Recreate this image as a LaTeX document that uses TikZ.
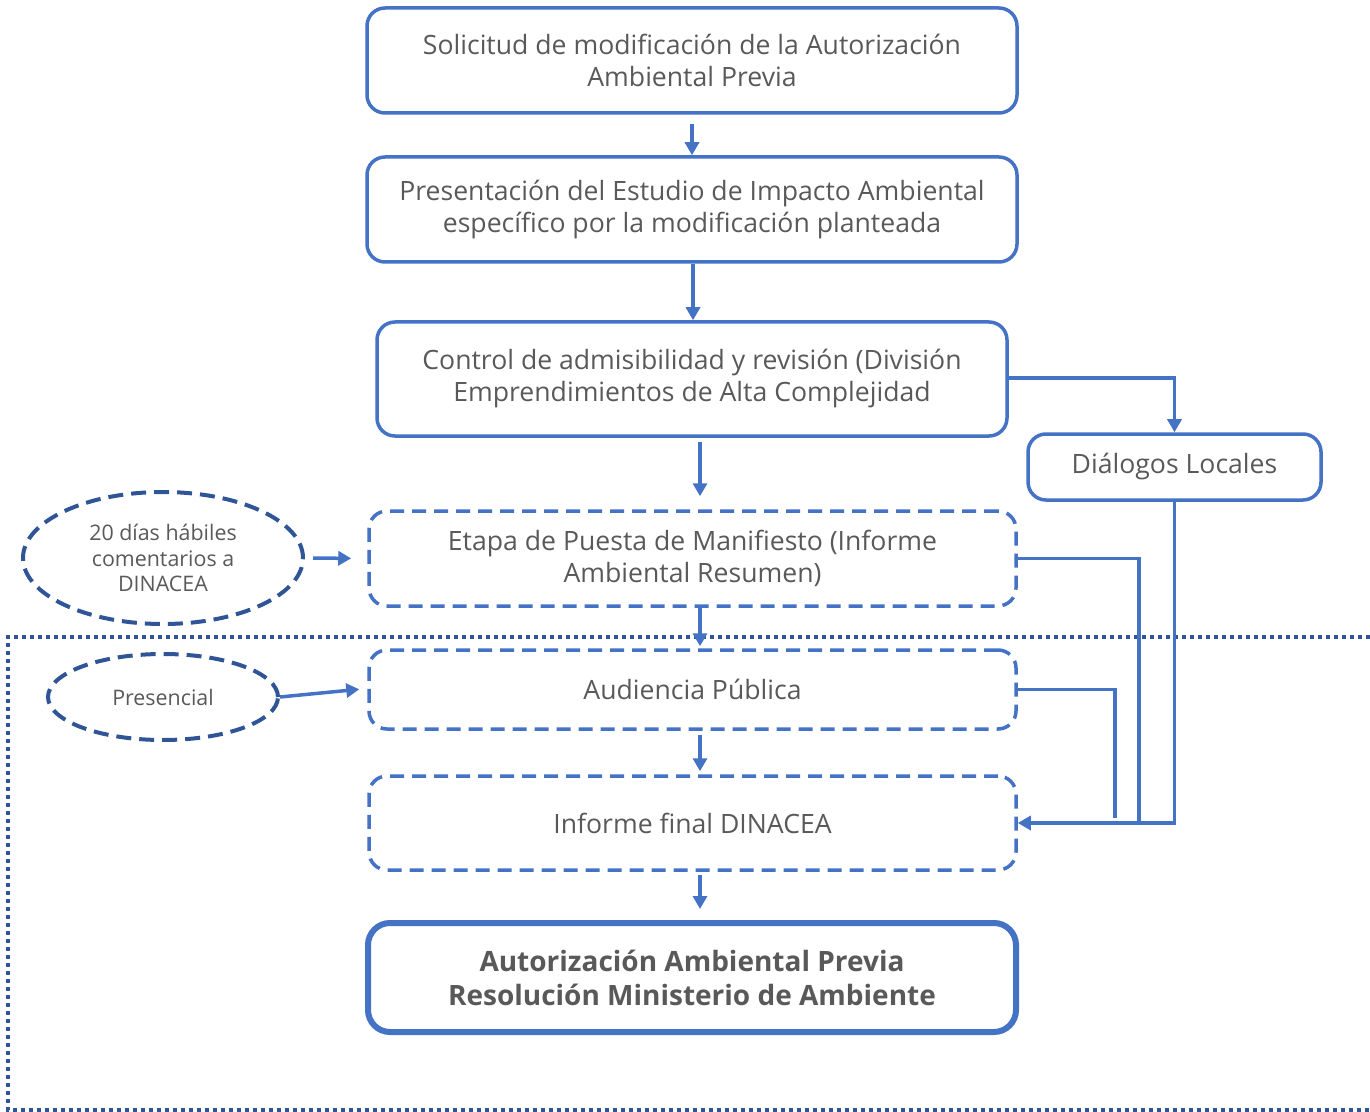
\documentclass[tikz,border=0pt]{standalone}
\usepackage{fontspec}
\setmainfont{Open Sans}
\usetikzlibrary{arrows.meta,shapes.geometric,calc}
\definecolor{boxblue}{HTML}{4472C4}
\definecolor{darkblue}{HTML}{2F5597}
\definecolor{txt}{HTML}{595959}
\begin{document}
\begin{tikzpicture}[x=0.5pt,y=-0.5pt,
  base/.style={rectangle,rounded corners=9pt,draw=boxblue,line width=1.75pt,text=txt,align=center,inner sep=0pt,
    font=\fontsize{13.3pt}{16pt}\selectfont},
  solidbox/.style={base},
  dashbox/.style={base,dash pattern=on 7pt off 4pt},
  finalbox/.style={base,line width=3pt,rounded corners=11pt,font=\fontsize{14pt}{17pt}\selectfont\bfseries},
  oval/.style={ellipse,draw=darkblue,line width=2pt,dash pattern=on 7.5pt off 4pt,text=txt,align=center,inner sep=0pt,
    font=\fontsize{10.7pt}{12.8pt}\selectfont},
  arr/.style={draw=boxblue,line width=1.75pt,-{Triangle[length=6.5pt,width=7pt]}},
  ln/.style={draw=boxblue,line width=1.75pt},
  frame/.style={draw=darkblue,line width=2pt,dash pattern=on 2pt off 2pt}
]
\useasboundingbox (0,0) rectangle (1370,1112);
% dotted frame
\draw[frame] (1370,637) -- (8,637) -- (8,1110) -- (1370,1110);

\node[solidbox,minimum width=325pt,minimum height=52.5pt] (sol) at (692,60.5) {Solicitud de modificación de la Autorización\\Ambiental Previa};
\node[solidbox,minimum width=325pt,minimum height=52.5pt] (pres) at (692,209.5) {Presentación del Estudio de Impacto Ambiental\\específico por la modificación planteada};
\node[solidbox,minimum width=315pt,minimum height=57pt] (ctrl) at (692,379) {Control de admisibilidad y revisión (División\\Emprendimientos de Alta Complejidad};
\node[solidbox,minimum width=146.5pt,minimum height=33pt] (dial) at (1174.5,467) {Diálogos Locales};
\node[dashbox,minimum width=323.5pt,minimum height=47.5pt] (etapa) at (692.5,558.5) {Etapa de Puesta de Manifiesto (Informe\\Ambiental Resumen)};
\node[dashbox,minimum width=323.5pt,minimum height=39.5pt] (aud) at (692.5,689.5) {Audiencia Pública};
\node[dashbox,minimum width=323.5pt,minimum height=47pt] (inf) at (692.5,823) {Informe final DINACEA};
\node[finalbox,minimum width=324pt,minimum height=54.5pt] (fin) at (692,977.5) {Autorización Ambiental Previa\\Resolución Ministerio de Ambiente};

\node[oval,minimum width=140pt,minimum height=66pt] (dias) at (163,558) {20 días hábiles\\comentarios a\\DINACEA};
\node[oval,minimum width=115pt,minimum height=43pt] (presc) at (163,697) {Presencial};

% vertical flow
\draw[arr,shorten <=4.5pt] (sol.south) -- (pres.north);
\draw[arr] ([xshift=0.5pt]pres.south) -- ([xshift=0.5pt]ctrl.north);
\draw[arr,shorten <=2pt,shorten >=6.5pt] ([xshift=4pt]ctrl.south) -- ([xshift=4pt]ctrl.south |- etapa.north);
\draw[arr,shorten >=1pt] ([xshift=3.75pt]etapa.south) -- ([xshift=3.75pt]aud.north);
\draw[arr,shorten <=2pt,shorten >=1.5pt] ([xshift=3.75pt]aud.south) -- ([xshift=3.75pt]inf.north);
\draw[arr,shorten <=1.5pt,shorten >=5.5pt] ([xshift=3.75pt]inf.south) -- ([xshift=3.75pt]inf.south |- fin.north);

% side connectors
\draw[arr] (ctrl.east |- 0,378) -| (dial.north);
\draw[arr] (dial.south) |- (inf.east);
\draw[ln] (etapa.east) -| (1139,823);
\draw[ln] (aud.east) -| (1115,818);

% ellipses
\draw[arr,shorten <=4pt,shorten >=8pt] (dias.east) -- (etapa.west);
\draw[arr,shorten >=4pt] (presc.east) -- ([yshift=0.5pt]aud.west);
\end{tikzpicture}
\end{document}
